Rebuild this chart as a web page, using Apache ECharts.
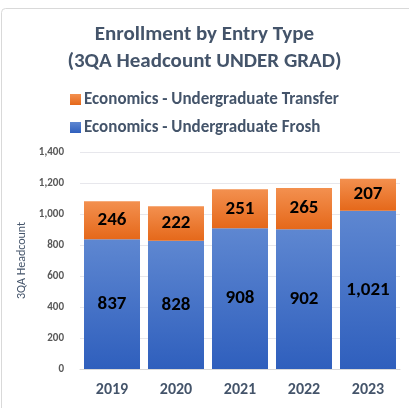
<!DOCTYPE html>
<html><head><meta charset="utf-8">
<script src="https://cdn.jsdelivr.net/npm/echarts@6/dist/echarts.min.js"></script>
<style>html,body{margin:0;padding:0;background:#fff}#c{width:409px;height:408px}</style>
</head><body><div id="c"></div>
<script>
const categories = ['2019','2020','2021','2022','2023'];
const frosh = [837, 828, 908, 902, 1021];
const transfer = [246, 222, 251, 265, 207];
const yTicks = [0,200,400,600,800,1000,1200,1400];

const chart = echarts.init(document.getElementById('c'));
const font = 'Calibri, Carlito, Lato, "Open Sans", "Noto Sans", sans-serif';
const txt = '#44546a';
chart.setOption({
  animation: false,
  backgroundColor: '#fff',
  graphic: [{type:'rect', shape:{x:1.5,y:8.5,width:412,height:410,r:4}, style:{fill:'none',stroke:'#d9d9d9',lineWidth:1}}],
  title: {
    text: 'Enrollment by Entry Type\n(3QA Headcount UNDER GRAD)',
    left: 'center', top: 16,
    textStyle: {fontFamily: font, fontSize: 21, fontWeight: 'bold', color: txt, lineHeight: 27}
  },
  legend: {
    orient: 'vertical', left: 65, top: 86, itemGap: 11,
    itemWidth: 11, itemHeight: 11, icon: 'rect',
    data: ['Economics - Undergraduate Transfer','Economics - Undergraduate Frosh'],
    textStyle: {fontFamily: font, fontSize: 17, fontWeight: 'bold', color: txt, padding:[0,0,0,-2]}
  },
  grid: {left: 80, right: 9, top: 152, bottom: 39, containLabel: false},
  xAxis: {
    type: 'category', data: categories,
    axisTick: {show:false},
    axisLine: {lineStyle:{color:'#d9d9d9', width:1}},
    axisLabel: {fontFamily: font, fontSize: 16, fontWeight: 'bold', color: txt, margin: 13}
  },
  yAxis: {
    type: 'value', min: 0, max: 1400, interval: 200,
    name: '3QA Headcount', nameLocation: 'middle', nameGap: 25, nameRotate: 90,
    nameTextStyle: {fontFamily: font, fontSize: 12, color: txt},
    axisLabel: {fontFamily: font, fontSize: 11, fontWeight: 'bold', color: '#595959', margin: 16,
      formatter: v => yTicks.includes(v) ? v.toLocaleString('en-US') : ''},
    splitLine: {lineStyle:{color:'#e7e7ec', width:1}},
    axisLine: {show:false}, axisTick: {show:false}
  },
  series: [
    {
      name: 'Economics - Undergraduate Frosh', type: 'bar', stack: 'a', data: frosh,
      barCategoryGap: '12.5%',
      itemStyle: {color: new echarts.graphic.LinearGradient(0,0,0,1,[{offset:0,color:'#5e87d1'},{offset:1,color:'#2f5fbd'}])},
      label: {show:true, position:'inside', fontFamily: font, fontSize: 19, fontWeight:'bold', color:'#000',
        formatter: p => p.value.toLocaleString('en-US')}
    },
    {
      name: 'Economics - Undergraduate Transfer', type: 'bar', stack: 'a', data: transfer,
      barCategoryGap: '12.5%',
      itemStyle: {color: new echarts.graphic.LinearGradient(0,0,0,1,[{offset:0,color:'#f3904f'},{offset:1,color:'#e5681a'}])},
      label: {show:true, position:'inside', fontFamily: font, fontSize: 19, fontWeight:'bold', color:'#000',
        formatter: p => p.value.toLocaleString('en-US')}
    }
  ]
});
</script></body></html>
